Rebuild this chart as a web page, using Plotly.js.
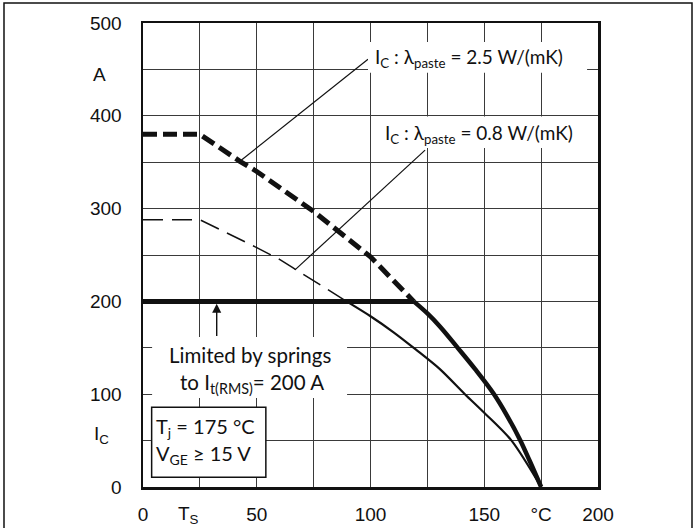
<!DOCTYPE html>
<html>
<head>
<meta charset="utf-8">
<script src="https://cdn.plot.ly/plotly-3.0.1.min.js"></script>
<style>html,body{margin:0;padding:0;background:#fff;}#chart{width:697px;height:528px;}</style>
</head>
<body>
<div id="chart"></div>
<script>
// ---- data ----
// Ic for lambda_paste = 2.5 W/(mK) (thick dashed part, above the spring limit)
const hiDashX = [0, 25, 42.6, 50, 75, 100, 119];
const hiDashY = [380, 380, 351, 340, 297, 248, 200];
// Spring limit It(RMS) = 200 A (thick solid horizontal)
const limitX = [0, 119];
const limitY = [200, 200];
// Ic for 2.5 W/(mK) below the limit (thick solid)
const hiSolidX = [119, 125, 130.5, 138, 146, 154, 160, 165.7, 170, 175];
const hiSolidY = [200, 187, 173, 151, 127, 101, 77, 51, 28, 0];
// Ic for lambda_paste = 0.8 W/(mK) (thin dashed part)
const loDashX = [0, 25, 50, 60.2, 66, 80, 89.5];
const loDashY = [288, 288, 258, 245, 236, 215, 200];
// Ic for 0.8 W/(mK) below the limit (thin solid)
const loSolidX = [89.5, 100, 110, 120, 130.5, 141.5, 150, 162, 175];
const loSolidY = [200, 184, 167, 148, 127, 100, 80, 50, 0];
// leader lines of the labels
const leader1X = [42.6, 98.9];
const leader1Y = [351, 461];
const leader2X = [66.8, 124];
const leader2Y = [234, 363];
// axis ticks
const xTickVals = [0, 50, 100, 150, 175, 200];
const xTickText = ["0", "50", "100", "150", "°C", "200"];
const yTickVals = [0, 100, 200, 300, 400, 500];
const yTickText = ["0", "100", "200", "300", "400", "500"];
// texts
const label1 = "I<sub>C</sub> : λ<sub>paste</sub> = 2.5 W/(mK)";
const label2 = "I<sub>C</sub> : λ<sub>paste</sub> = 0.8 W/(mK)";
const springLine1 = "Limited by springs";
const springLine2 = "to I<sub>t(RMS)</sub>= 200 A";
const condLine1 = "T<sub>j</sub> = 175 °C";
const condLine2 = "V<sub>GE</sub> ≥ 15 V";

const annFont = {family: "Lato, Open Sans, sans-serif", size: 19, color: "#111"};
const springFont = {family: "Lato, Open Sans, sans-serif", size: 20.5, color: "#111"};
const boxFont = {family: "Lato, Open Sans, sans-serif", size: 20, color: "#111"};
const tickFont = {family: "Liberation Sans, Arial, sans-serif", size: 19, color: "#111"};

const traces = [
  {x: hiDashX, y: hiDashY, mode: "lines", line: {color: "#111", width: 5, dash: "14px,6px"}, hoverinfo: "skip"},
  {x: loDashX, y: loDashY, mode: "lines", line: {color: "#111", width: 1.5, dash: "20px,9px"}, hoverinfo: "skip"},
  {x: loSolidX, y: loSolidY, mode: "lines", line: {color: "#111", width: 2.2, shape: "spline", smoothing: 0.8}, hoverinfo: "skip"},
  {x: limitX, y: limitY, mode: "lines", line: {color: "#111", width: 5}, hoverinfo: "skip"},
  {x: hiSolidX, y: hiSolidY, mode: "lines", line: {color: "#111", width: 4.5, shape: "spline", smoothing: 1}, hoverinfo: "skip"},
  {x: leader1X, y: leader1Y, mode: "lines", line: {color: "#111", width: 1.2}, hoverinfo: "skip"},
  {x: leader2X, y: leader2Y, mode: "lines", line: {color: "#111", width: 1.2}, hoverinfo: "skip"}
];

const gridCol = "#3a3a3a";
const layout = {
  width: 697, height: 528,
  margin: {l: 143, r: 99, t: 23, b: 41, pad: 0},
  paper_bgcolor: "#fff", plot_bgcolor: "#fff",
  showlegend: false,
  xaxis: {
    range: [0, 200], tickmode: "array", tickvals: xTickVals, ticktext: xTickText,
    showgrid: true, gridcolor: gridCol, gridwidth: 1, zeroline: false,
    minor: {tickmode: "linear", tick0: 0, dtick: 25, showgrid: true, gridcolor: gridCol, gridwidth: 1, ticks: ""},
    showline: true, mirror: true, linecolor: "#111", linewidth: 2.5,
    ticks: "", tickfont: tickFont, ticklabelstandoff: 9, fixedrange: true
  },
  yaxis: {
    range: [0, 500], tickmode: "array", tickvals: yTickVals, ticktext: yTickText,
    showgrid: true, gridcolor: gridCol, gridwidth: 1, zeroline: false,
    minor: {tickmode: "linear", tick0: 0, dtick: 50, showgrid: true, gridcolor: gridCol, gridwidth: 1, ticks: ""},
    showline: true, mirror: true, linecolor: "#111", linewidth: 2.5,
    ticks: "", tickfont: tickFont, ticklabelstandoff: 15, fixedrange: true
  },
  shapes: [
    // outer frame of the figure
    {type: "rect", xref: "paper", yref: "paper", x0: -0.3055, x1: 1.2066, y0: -0.11, y1: 1.0431,
     line: {color: "#111", width: 1.5}, fillcolor: "rgba(0,0,0,0)", layer: "above"},
    // white backgrounds behind the labels
    {type: "rect", xref: "x", yref: "y", x0: 98.9, x1: 195.2, y0: 446.3, y1: 479.5,
     line: {width: 0}, fillcolor: "#fff", layer: "above"},
    {type: "rect", xref: "x", yref: "y", x0: 103.3, x1: 199.2, y0: 365.3, y1: 399.3,
     line: {width: 0}, fillcolor: "#fff", layer: "above"},
    {type: "rect", xref: "x", yref: "y", x0: 4, x1: 89.7, y0: 96, y1: 161.6,
     line: {width: 0}, fillcolor: "#fff", layer: "above"},
    // conditions box
    {type: "rect", xref: "x", yref: "y", x0: 3.8, x1: 54, y0: 10.5, y1: 86,
     line: {color: "#111", width: 1.5}, fillcolor: "#fff", layer: "above"}
  ],
  annotations: [
    {x: 101.2, y: 462, xref: "x", yref: "y", text: label1, showarrow: false, xanchor: "left", yanchor: "middle", font: annFont},
    {x: 105.6, y: 380, xref: "x", yref: "y", text: label2, showarrow: false, xanchor: "left", yanchor: "middle", font: annFont},
    {x: 47.2, y: 142, xref: "x", yref: "y", text: springLine1, showarrow: false, xanchor: "center", yanchor: "middle", font: springFont},
    {x: 47.8, y: 111, xref: "x", yref: "y", text: springLine2, showarrow: false, xanchor: "center", yanchor: "middle", font: springFont},
    {x: 32.4, y: 197.5, ax: 32.4, ay: 161, xref: "x", yref: "y", axref: "x", ayref: "y", text: "",
     showarrow: true, arrowhead: 2, arrowsize: 1.3, arrowwidth: 1.4, arrowcolor: "#111"},
    {x: 5.0, y: 64, xref: "x", yref: "y", text: condLine1, showarrow: false, xanchor: "left", yanchor: "middle", font: boxFont},
    {x: 5.0, y: 34.5, xref: "x", yref: "y", text: condLine2, showarrow: false, xanchor: "left", yanchor: "middle", font: boxFont},
    // axis unit / symbol labels
    {x: 99, y: 445, xref: "paper", yref: "y", text: "A", showarrow: false, font: tickFont, xanchor: "center", yanchor: "middle"},
    {x: 101, y: 56, xref: "paper", yref: "y", text: "I<sub>C</sub>", showarrow: false, font: tickFont, xanchor: "center", yanchor: "middle"},
    {x: 20, y: 513, xref: "x", yref: "paper", text: "T<sub>S</sub>", showarrow: false, font: tickFont, xanchor: "center", yanchor: "middle"}
  ]
};
// convert pixel-located axis symbol labels to paper coordinates
const plotL = 143, plotW = 455, plotT = 23, plotH = 464;
layout.annotations[7].x = (99 - plotL) / plotW;
layout.annotations[8].x = (101 - plotL) / plotW;
layout.annotations[9].y = (plotT + plotH - 515) / plotH;

Plotly.newPlot("chart", traces, layout, {staticPlot: true, displayModeBar: false});
</script>
</body>
</html>
